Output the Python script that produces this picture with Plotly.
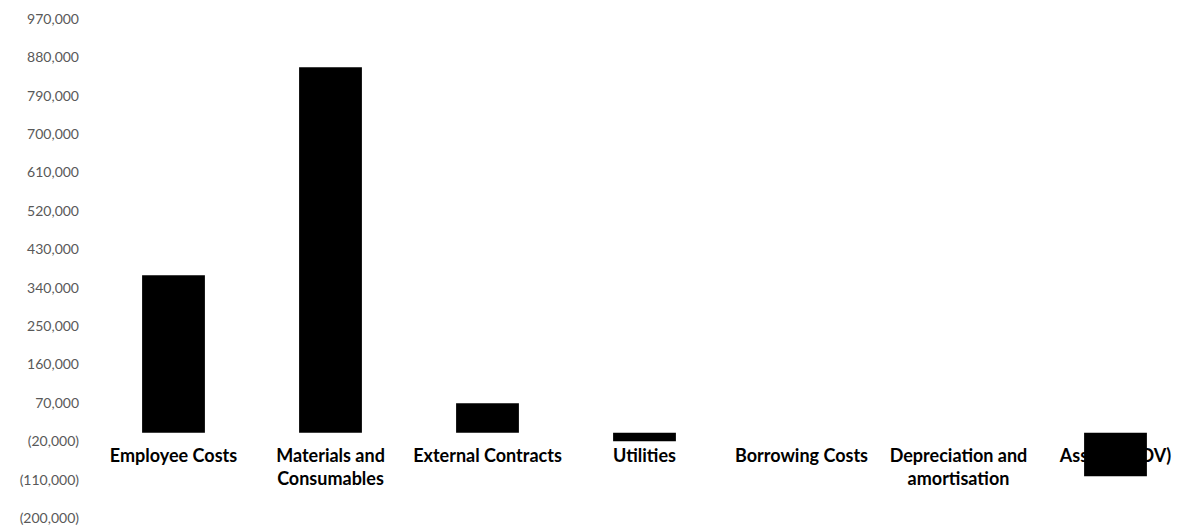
import plotly.graph_objects as go

categories = ["Employee Costs", "Materials and<br>Consumables", "External Contracts",
              "Utilities", "Borrowing Costs", "Depreciation and<br>amortisation", "Assets (WDV)"]
values = [369000, 857000, 69000, -20000, 0, 0, -102000]

tick_values = [970000, 880000, 790000, 700000, 610000, 520000, 430000, 340000,
               250000, 160000, 70000, -20000, -110000, -200000]
tick_labels = ["970,000", "880,000", "790,000", "700,000", "610,000", "520,000", "430,000",
               "340,000", "250,000", "160,000", "70,000", "(20,000)", "(110,000)", "(200,000)"]

y_min, y_max = -200000, 970000
zero_pos = (0 - y_min) / (y_max - y_min)

fig = go.Figure(go.Bar(
    x=categories, y=values,
    marker=dict(color="#000000", line=dict(width=0)),
))

fig.update_layout(
    width=1200, height=527,
    margin=dict(l=87, r=14, t=11, b=17, autoexpand=False),
    paper_bgcolor="white", plot_bgcolor="white",
    bargap=0.6, showlegend=False,
    font=dict(family="Lato", color="#595959", size=13),
    xaxis=dict(anchor="free", position=zero_pos, showline=False, showgrid=False,
               zeroline=False, ticks="", tickangle=0, layer="below traces",
               ticklabelstandoff=10, automargin=False,
               tickfont=dict(family="Lato", size=18, color="#000000", weight="bold")),
    yaxis=dict(range=[y_min, y_max], tickvals=tick_values, ticktext=tick_labels,
               showgrid=False, zeroline=False, showline=False, ticks="",
               ticklabelstandoff=15, automargin=False,
               tickfont=dict(family="Lato", size=14, color="#595959")),
)

fig.write_html("out.html")
